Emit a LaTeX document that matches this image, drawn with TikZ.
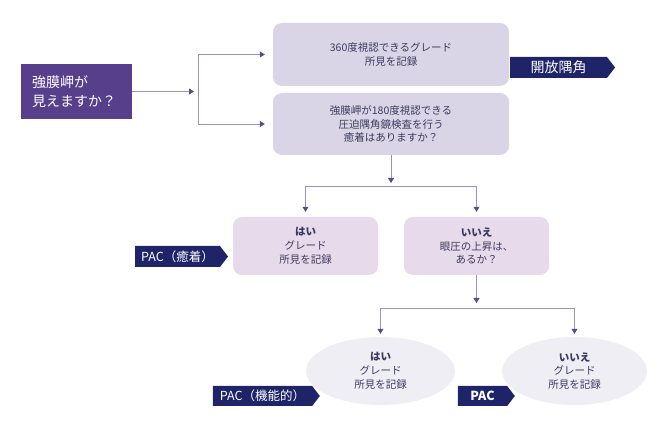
\documentclass[tikz,border=0pt]{standalone}
\usepackage{fontspec}
\setmainfont{Noto Sans CJK JP}
\usetikzlibrary{shapes.geometric,shapes.symbols,arrows.meta}
\definecolor{mainpurple}{HTML}{573F8B}
\definecolor{tagnavy}{HTML}{1E2467}
\definecolor{boxgray}{HTML}{DAD5E6}
\definecolor{boxpink}{HTML}{E7DAEA}
\definecolor{ellgray}{HTML}{EFEEF5}
\definecolor{linepurple}{HTML}{9C91B8}
\definecolor{tippurple}{HTML}{5A4A8E}
\definecolor{boxtext}{HTML}{3C3B5E}

\begin{document}
\begin{tikzpicture}[x=1pt,y=-1pt,
qbox/.style={rounded corners=9pt,fill=#1,text=boxtext,align=center,
 inner sep=0pt,font=\fontsize{10.5}{13.8}\selectfont},
ebox/.style={ellipse,fill=ellgray,text=boxtext,align=center,inner sep=0pt,
 minimum height=68pt,font=\fontsize{10.5}{13.8}\selectfont},
tag/.style={signal,signal to=east,signal pointer angle=105,fill=tagnavy,
 text=white,inner sep=0pt,minimum height=21pt,font=\fontsize{12.5}{12.5}\selectfont},
flow/.style={draw=linepurple,line width=0.8pt,
 -{Triangle[length=5pt,width=6pt,color=tippurple]}}]

 \useasboundingbox (0,0) rectangle (670,435);

 \node[fill=mainpurple,text=white,align=left,text width=89pt,inner xsep=11pt,
  inner ysep=0pt,minimum height=55pt,font=\fontsize{14}{19}\selectfont]
  (main) at (76.5,91.5) {強膜岬が\\見えますか？};

 \node[qbox=boxgray,minimum width=236pt,minimum height=63pt] (box1) at (391,54.5)
  {360度視認できるグレード\\所見を記録};
 \node[qbox=boxgray,minimum width=236pt,minimum height=62pt] (box2) at (391,124)
  {強膜岬が180度視認できる\\圧迫隅角鏡検査を行う\\癒着はありますか？};
 \node[qbox=boxpink,minimum width=145pt,minimum height=58pt] (box3) at (305.5,246)
  {\textbf{はい}\\グレード\\所見を記録};
 \node[qbox=boxpink,minimum width=145pt,minimum height=58pt] (box4) at (476.5,246)
  {\textbf{いいえ}\\眼圧の上昇は、\\あるか？};
 \node[ebox,minimum width=149pt] (ell1) at (380.5,371)
  {\textbf{はい}\\グレード\\所見を記録};
 \node[ebox,minimum width=145pt] (ell2) at (574.5,371)
  {\textbf{いいえ}\\グレード\\所見を記録};

 \node[tag,minimum width=105pt,font=\fontsize{14}{14}\selectfont] (open) at (558.5,67.5) {開放隅角};
 \node[tag,minimum width=93pt] (pac1) at (177.5,256.5) {PAC（癒着）};
 \node[tag,minimum width=107pt,minimum height=20pt] (pac2) at (262.5,396) {PAC（機能的）};
 \node[tag,minimum width=57pt,minimum height=20pt] (pac3) at (482.5,396) {\textbf{PAC}};

 \coordinate (s1) at (198,91.5);
 \coordinate (j1) at (391,186);
 \coordinate (j2) at (476.5,308);

 \draw[flow,shorten >=4pt] (main) -- (s1);
 \foreach\B in {box1,box2}
 {\draw[flow,shorten >=8pt] (s1) |- (\B);}
 \draw[flow,shorten >=3pt] (box2) -- (j1);
 \foreach\B in {box3,box4}
 {\draw[flow,shorten >=5pt] (j1) -| (\B);}
 \draw[flow,shorten >=5pt] (box4) -- (j2);
 \foreach\B in {ell1,ell2}
 {\draw[flow,shorten >=3pt] (j2) -| (\B);}
 %
\end{tikzpicture}
\end{document}
